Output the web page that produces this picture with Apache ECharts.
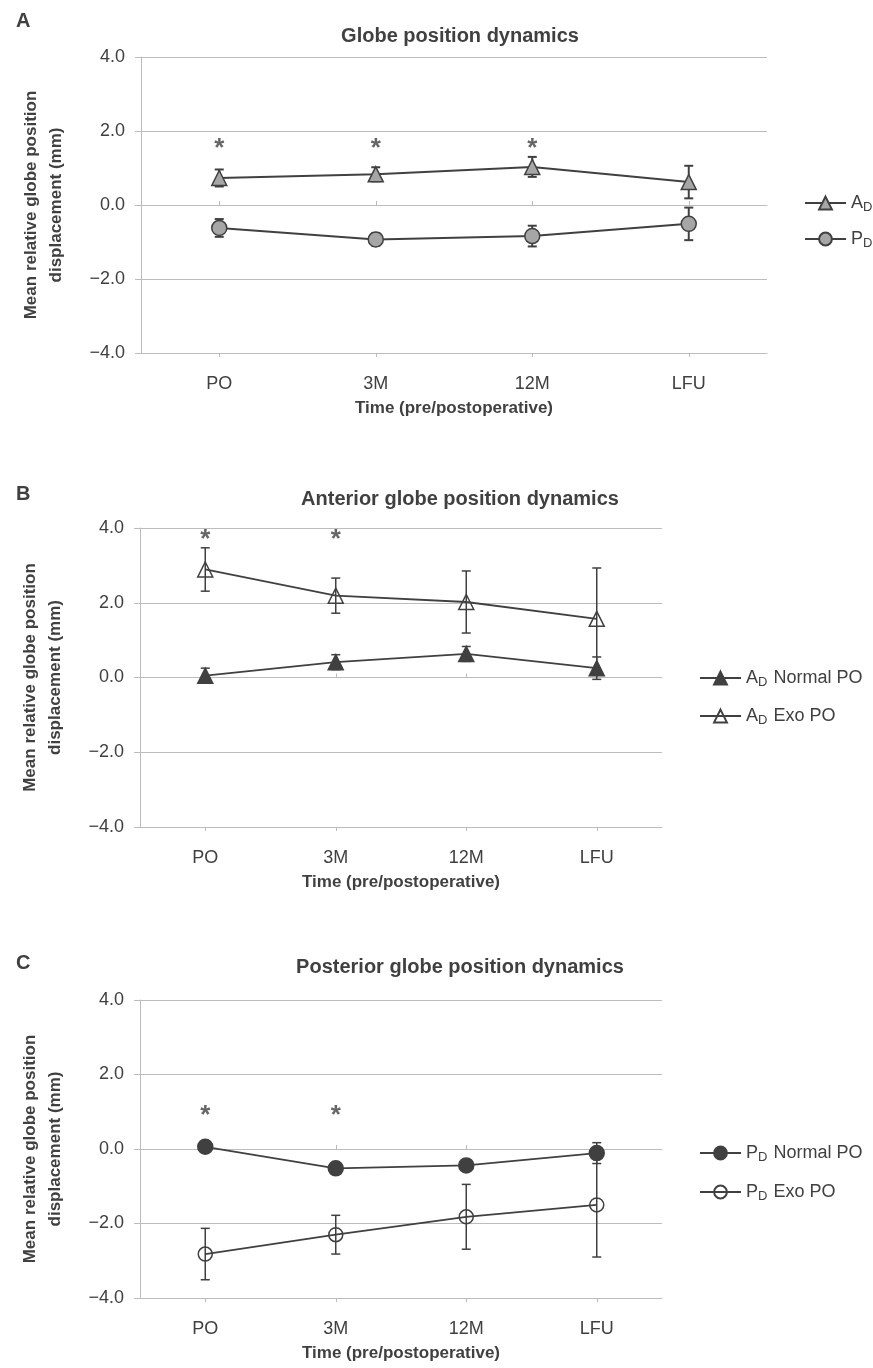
<!DOCTYPE html>
<html>
<head>
<meta charset="utf-8">
<script src="https://cdn.jsdelivr.net/npm/echarts@6/dist/echarts.min.js"></script>
<style>
  html, body { margin: 0; padding: 0; background: #fff; }
  #chart { width: 873px; height: 1368px; }
</style>
</head>
<body>
<div id="chart"></div>
<script>
const categories = ['PO', '3M', '12M', 'LFU'];
const yMin = -4, yMax = 4, yStep = 2;

// A: all patients
const aD = [0.73, 0.83, 1.03, 0.62];
const aDErr = [0.23, 0.19, 0.27, 0.44];
const pD = [-0.62, -0.93, -0.84, -0.51];
const pDErr = [0.24, 0.17, 0.28, 0.44];
const starsA = [1.62, 1.62, 1.62, null];

// B: anterior, normal vs exo
const aDNormal = [0.05, 0.41, 0.63, 0.25];
const aDNormalErr = [0.2, 0.2, 0.2, 0.3];
const aDExo = [2.89, 2.19, 2.02, 1.57];
const aDExoErr = [0.58, 0.47, 0.83, 1.36];
const starsB = [3.8, 3.8, null, null];

// C: posterior, normal vs exo
const pDNormal = [0.06, -0.52, -0.44, -0.11];
const pDNormalErr = [0.15, 0.15, 0.15, 0.28];
const pDExo = [-2.82, -2.3, -1.82, -1.5];
const pDExoErr = [0.69, 0.52, 0.87, 1.4];
const starsC = [1.0, 1.0, null, null];

const FONT = 'Liberation Sans, Arial, sans-serif';
const DARK = '#404040';
const TEXT = '#404040';
const GRIDLINE = '#bcbcbc';

const myChart = echarts.init(document.getElementById('chart'));

const grids = [
    { left: 141, top: 57, width: 626, height: 296, outerBoundsMode: 'none' },
    { left: 140, top: 528, width: 522, height: 299, outerBoundsMode: 'none' },
    { left: 140, top: 1000, width: 522, height: 298, outerBoundsMode: 'none' }
];

const xAxes = [];
const yAxes = [];
grids.forEach((g, i) => {
    // labelled axis at the bottom of the plot
    xAxes.push({
        type: 'category', gridIndex: i, data: categories, position: 'bottom',
        axisLine: { show: false, onZero: false }, axisTick: { show: false },
        axisLabel: { color: TEXT, fontSize: 18, fontFamily: FONT, margin: 22 },
        name: 'Time (pre/postoperative)', nameLocation: 'middle', nameGap: 47,
        nameTextStyle: { color: TEXT, fontSize: 17, fontWeight: 'bold', fontFamily: FONT }
    });
    // category axis crossing at zero, ticks up
    xAxes.push({
        type: 'category', gridIndex: i, data: categories, position: 'top',
        axisLine: { show: true, onZero: true, lineStyle: { color: GRIDLINE } },
        axisTick: { show: true, alignWithLabel: true, length: 4, lineStyle: { color: GRIDLINE } },
        axisLabel: { show: false }
    });
    // same, ticks down
    xAxes.push({
        type: 'category', gridIndex: i, data: categories, position: 'bottom',
        axisLine: { show: true, onZero: true, lineStyle: { color: GRIDLINE } },
        axisTick: { show: true, alignWithLabel: true, length: 4, lineStyle: { color: GRIDLINE } },
        axisLabel: { show: false }
    });
    yAxes.push({
        type: 'value', gridIndex: i, min: yMin, max: yMax, interval: yStep,
        axisLine: { show: true, lineStyle: { color: GRIDLINE } },
        axisTick: { show: true, length: 6, lineStyle: { color: GRIDLINE } },
        splitLine: { show: true, lineStyle: { color: GRIDLINE } },
        axisLabel: {
            color: TEXT, fontSize: 18, fontFamily: FONT, margin: 16,
            formatter: v => (v < 0 ? '\u2212' : '') + Math.abs(v).toFixed(1)
        },
        name: 'Mean relative globe position\ndisplacement (mm)',
        nameLocation: 'middle', nameGap: 72,
        nameTextStyle: { color: TEXT, fontSize: 17, fontWeight: 'bold', fontFamily: FONT, lineHeight: 25 }
    });
});

function errorBars(panel, means, errs, width) {
    return {
        type: 'custom',
        xAxisIndex: panel * 3, yAxisIndex: panel,
        z: 1, silent: true,
        data: means.map((m, i) => [i, m, errs[i]]),
        encode: { x: 0, y: 1 },
        renderItem: (params, api) => {
            const x = api.value(0), m = api.value(1), e = api.value(2);
            const hi = api.coord([x, m + e]);
            const lo = api.coord([x, m - e]);
            const hw = 4.5;
            const style = { stroke: DARK, lineWidth: width };
            return {
                type: 'group',
                children: [
                    { type: 'line', shape: { x1: hi[0], y1: hi[1], x2: lo[0], y2: lo[1] }, style },
                    { type: 'line', shape: { x1: hi[0] - hw, y1: hi[1], x2: hi[0] + hw, y2: hi[1] }, style },
                    { type: 'line', shape: { x1: lo[0] - hw, y1: lo[1], x2: lo[0] + hw, y2: lo[1] }, style }
                ]
            };
        }
    };
}

function lineSeries(panel, name, values, symbol, fill, size, width) {
    return {
        type: 'line', name,
        xAxisIndex: panel * 3, yAxisIndex: panel,
        data: values, z: 3,
        symbol, symbolSize: size, showAllSymbol: true,
        lineStyle: { color: DARK, width },
        itemStyle: { color: fill, borderColor: DARK, borderWidth: 1.5 },
        emphasis: { disabled: true }
    };
}

function stars(panel, values) {
    return {
        type: 'scatter',
        xAxisIndex: panel * 3, yAxisIndex: panel,
        data: values, symbolSize: 1, silent: true,
        itemStyle: { color: 'transparent' },
        label: {
            show: true, position: 'inside', formatter: '*', offset: [0, 4],
            color: DARK, fontSize: 26, fontWeight: 'bold', fontFamily: FONT
        }
    };
}

const richLegend = {
    n: { fontSize: 18, color: TEXT, fontFamily: FONT, verticalAlign: 'middle' },
    s: { fontSize: 13, color: TEXT, fontFamily: FONT, verticalAlign: 'middle', padding: [9, 1, 0, 0] }
};
const legendFormatter = name => name.replace(/^([AP])_D(.*)$/, '{n|$1}{s|D}{n|$2}');

function legend(left, top, gap, names) {
    return {
        orient: 'vertical', left, top, itemGap: gap,
        itemWidth: 41, itemHeight: 16,
        data: names, selectedMode: false,
        formatter: legendFormatter,
        textStyle: { color: TEXT, fontSize: 18, fontFamily: FONT, rich: richLegend }
    };
}

const panelTitle = (text, top) => ({
    text, left: 455, top, textAlign: 'center',
    textStyle: { color: TEXT, fontSize: 20, fontWeight: 'bold', fontFamily: FONT }
});
const panelLetter = (text, top) => ({
    text, left: 11, top,
    textStyle: { color: TEXT, fontSize: 20, fontWeight: 'bold', fontFamily: FONT }
});

const option = {
    backgroundColor: '#fff',
    animation: false,
    textStyle: { fontFamily: FONT },
    title: [
        panelLetter('A', 6), panelTitle('Globe position dynamics', 21),
        panelLetter('B', 479), panelTitle('Anterior globe position dynamics', 484),
        panelLetter('C', 948), panelTitle('Posterior globe position dynamics', 952)
    ],
    legend: [
        legend(799, 189, 16, ['A_D', 'P_D']),
        legend(694, 664, 18, ['A_D Normal PO', 'A_D Exo PO']),
        legend(694, 1139, 19, ['P_D Normal PO', 'P_D Exo PO'])
    ],
    grid: grids,
    xAxis: xAxes,
    yAxis: yAxes,
    series: [
        errorBars(0, aD, aDErr, 2),
        errorBars(0, pD, pDErr, 2),
        lineSeries(0, 'A_D', aD, 'triangle', '#a6a6a6', 15, 2),
        lineSeries(0, 'P_D', pD, 'circle', '#a6a6a6', 15, 2),
        stars(0, starsA),

        errorBars(1, aDNormal, aDNormalErr, 1.5),
        errorBars(1, aDExo, aDExoErr, 1.5),
        lineSeries(1, 'A_D Normal PO', aDNormal, 'triangle', DARK, 15, 1.8),
        lineSeries(1, 'A_D Exo PO', aDExo, 'triangle', 'rgba(255,255,255,0)', 15, 1.8),
        stars(1, starsB),

        errorBars(2, pDNormal, pDNormalErr, 1.5),
        errorBars(2, pDExo, pDExoErr, 1.5),
        lineSeries(2, 'P_D Normal PO', pDNormal, 'circle', DARK, 15, 1.8),
        lineSeries(2, 'P_D Exo PO', pDExo, 'circle', 'rgba(255,255,255,0)', 14, 1.8),
        stars(2, starsC)
    ]
};

myChart.setOption(option);
</script>
</body>
</html>
